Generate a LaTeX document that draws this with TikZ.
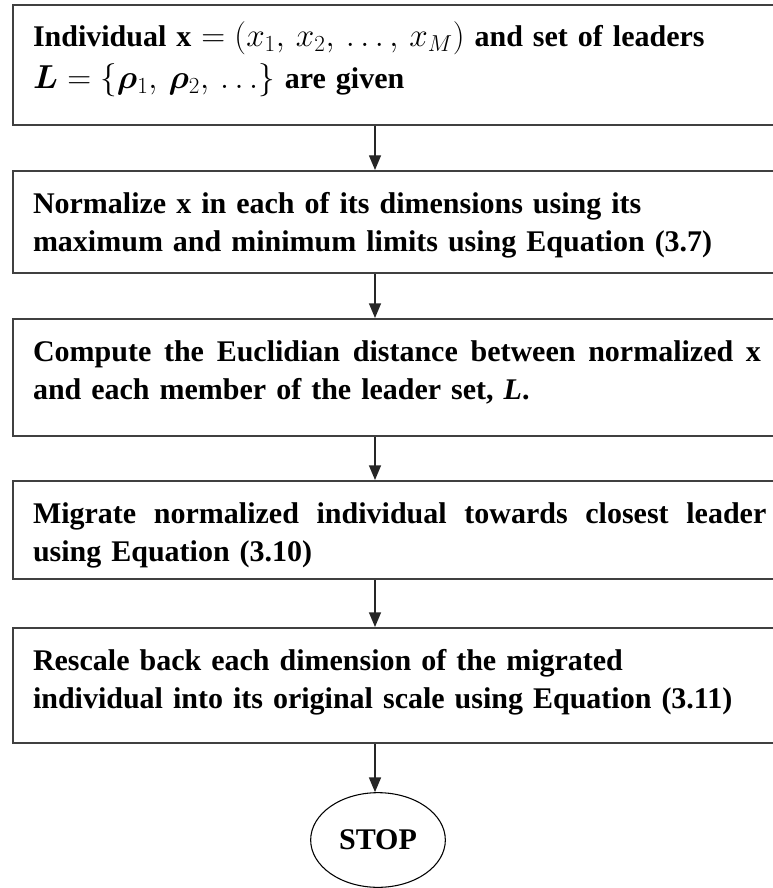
\documentclass[tikz,border=0pt]{standalone}
\usepackage{fontspec}
\usepackage{bm}
\setmainfont{Liberation Serif}
\usetikzlibrary{arrows.meta,shapes.geometric}

\newcommand{\eqbit}[1]{{\fontsize{26}{31}\selectfont$#1$}}
\newcommand{\fullline}[2]{\hbox to #1{\spaceskip=5pt plus 30pt\relax #2}}

\tikzset{
  stepbox/.style={draw=black!75, line width=1.5pt, anchor=north west,
    inner xsep=15pt, inner ysep=0pt, text width=560pt, align=left,
    text height=31.5pt, font=\bfseries\fontsize{22.5}{29}\selectfont},
  flow/.style={-{Triangle[length=11pt,width=9pt]}, line width=1pt, black!85},
}

\begin{document}
\begin{tikzpicture}[x=0.75pt, y=-0.75pt]

    \useasboundingbox (0,0) rectangle (773,888);

    % 1. Cac buoc
    \node[stepbox, text depth=58.5pt, font=\bfseries\fontsize{22.5}{31}\selectfont] (input) at (12,4)
        {Individual \textbf{x} \eqbit{= (x_1,\, x_2,\, \dots,\, x_M)} and set of leaders\\
         \eqbit{\bm{L} = \{\bm{\rho}_1,\, \bm{\rho}_2,\, \dots\}} are given};
    \node[stepbox, text depth=45pt] (normalize) at (12,170)
        {Normalize \textbf{x} in each of its dimensions using its\\
         maximum and minimum limits using Equation (3.7)};
    \node[stepbox, text depth=56.25pt] (distance) at (12,318)
        {\fullline{546pt}{Compute the Euclidian distance between normalized x}\\
         and each member of the leader set, \textit{L}.};
    \node[stepbox, text depth=42pt] (migrate) at (12,480)
        {\fullline{550pt}{Migrate normalized individual towards closest leader}\\
         using Equation (3.10)};
    \node[stepbox, text depth=54.75pt] (rescale) at (12,627)
        {Rescale back each dimension of the migrated\\
         individual into its original scale using Equation (3.11)};

    % 2. Ket thuc
    \node[ellipse, draw, line width=0.8pt, minimum width=101pt, minimum height=71pt,
          font=\bfseries\fontsize{22.5}{29}\selectfont] (stop) at (378,840) {STOP};

    % 3. Mui ten
    \coordinate (spine) at (375,0);
    \draw[flow] (input.south -| spine) -- (normalize.north -| spine);
    \draw[flow] (normalize.south -| spine) -- (distance.north -| spine);
    \draw[flow] (distance.south -| spine) -- (migrate.north -| spine);
    \draw[flow] (migrate.south -| spine) -- (rescale.north -| spine);
    \draw[flow] (rescale.south -| spine) -- (stop.north -| spine);

\end{tikzpicture}
\end{document}
